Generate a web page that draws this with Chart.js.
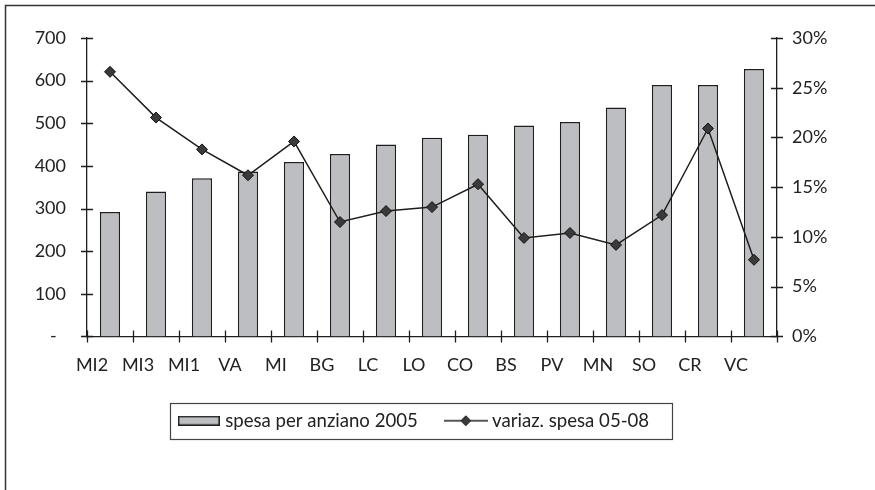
<!DOCTYPE html>
<html>
<head>
<meta charset="utf-8">
<script src="https://cdn.jsdelivr.net/npm/chart.js@4"></script>
<style>
  body { margin: 0; background: #fff; overflow: hidden; }
  #wrap { width: 875px; height: 490px; }
</style>
</head>
<body>
<div id="wrap"><canvas id="myChart" width="875" height="490"></canvas></div>
<script>
// categorie e valori
let categorie = ['MI2', 'MI3', 'MI1', 'VA', 'MI', 'BG', 'LC', 'LO', 'CO', 'BS', 'PV', 'MN', 'SO', 'CR', 'VC'];
let spesa2005 = [292, 340, 371, 387, 409, 428, 450, 466, 473, 495, 503, 537, 590, 590, 627];
let variazSpesa = [26.6, 22.0, 18.8, 16.2, 19.6, 11.5, 12.6, 13.0, 15.3, 9.9, 10.4, 9.2, 12.2, 20.9, 7.7];
let tickSinistra = [0, 100, 200, 300, 400, 500, 600, 700];
let tickDestra = [0, 5, 10, 15, 20, 25, 30];

const grigio = '#bdbec2';
const scuro = '#1e1e1e';

Chart.defaults.font.family = 'Lato';
Chart.defaults.font.size = 18;
Chart.defaults.color = '#222';

// immagini per la legenda
function swatchBarra() {
    let c = document.createElement('canvas');
    c.width = 42; c.height = 10;
    let ctx = c.getContext('2d');
    ctx.fillStyle = grigio;
    ctx.fillRect(0.75, 0.75, 40.5, 8.5);
    ctx.strokeStyle = scuro;
    ctx.lineWidth = 1.5;
    ctx.strokeRect(0.75, 0.75, 40.5, 8.5);
    return c;
}

function swatchLinea() {
    let c = document.createElement('canvas');
    c.width = 44; c.height = 12;
    let ctx = c.getContext('2d');
    ctx.strokeStyle = scuro;
    ctx.lineWidth = 1.5;
    ctx.beginPath();
    ctx.moveTo(0, 6); ctx.lineTo(44, 6);
    ctx.stroke();
    ctx.fillStyle = '#3a3a3a';
    ctx.beginPath();
    ctx.moveTo(22 - 5, 6); ctx.lineTo(22, 1); ctx.lineTo(22 + 5, 6); ctx.lineTo(22, 11);
    ctx.closePath();
    ctx.fill();
    ctx.lineWidth = 1;
    ctx.stroke();
    return c;
}
const immaginiLegenda = [swatchBarra(), swatchLinea()];

// tacche che attraversano gli assi, cornice e bordo della legenda
const extraPlugin = {
    id: 'extra',
    afterDraw(chart) {
        const ctx = chart.ctx;
        const x = chart.scales.x, y = chart.scales.y, y1 = chart.scales.y1;
        ctx.save();
        ctx.strokeStyle = scuro;
        ctx.lineWidth = 1.3;
        ctx.beginPath();
        for (let i = 0; i <= categorie.length; i++) {
            let px = Math.round(x.getPixelForValue(i - 0.5)) + 0.5;
            ctx.moveTo(px, x.top - 6);
            ctx.lineTo(px, x.top + 6);
        }
        y.ticks.forEach(t => {
            let py = Math.round(y.getPixelForValue(t.value)) + 0.5;
            ctx.moveTo(y.right - 6, py);
            ctx.lineTo(y.right + 6, py);
        });
        y1.ticks.forEach(t => {
            let py = Math.round(y1.getPixelForValue(t.value)) + 0.5;
            ctx.moveTo(y1.left - 6, py);
            ctx.lineTo(y1.left + 6, py);
        });
        ctx.stroke();

        // cornice esterna (solo sopra e a sinistra)
        ctx.strokeStyle = '#333';
        ctx.lineWidth = 1.5;
        ctx.beginPath();
        ctx.moveTo(5.5, chart.height);
        ctx.lineTo(5.5, 5.5);
        ctx.lineTo(chart.width, 5.5);
        ctx.stroke();

        // bordo legenda
        let hb = chart.legend.legendHitBoxes;
        if (hb && hb.length) {
            let last = hb[hb.length - 1];
            let l = hb[0].left - 12;
            let r = last.left + last.width + 23;
            let t = hb[0].top - 8;
            let b = hb[0].top + hb[0].height + 9;
            ctx.lineWidth = 1.2;
            ctx.strokeStyle = '#444';
            ctx.strokeRect(Math.round(l) + 0.5, Math.round(t) + 0.5, Math.round(r - l), Math.round(b - t));
        }
        ctx.restore();
    }
};

let data = {
    labels: categorie,
    datasets: [
        {
            type: 'bar',
            label: 'spesa per anziano 2005',
            data: spesa2005,
            backgroundColor: grigio,
            borderColor: scuro,
            borderWidth: 1.5,
            barPercentage: 0.44,
            categoryPercentage: 1,
            yAxisID: 'y',
            order: 2
        },
        {
            type: 'line',
            label: 'variaz. spesa 05-08',
            data: variazSpesa,
            borderColor: scuro,
            borderWidth: 1.5,
            tension: 0,
            pointStyle: 'rectRot',
            pointRadius: 5.5,
            pointBackgroundColor: '#3a3a3a',
            pointBorderColor: '#111',
            pointBorderWidth: 1,
            yAxisID: 'y1',
            order: 1
        }
    ]
};

let config = {
    type: 'bar',
    data: data,
    options: {
        responsive: false,
        animation: false,
        layout: { padding: { left: 0, right: 44, top: 38, bottom: 50 } },
        plugins: {
            tooltip: { enabled: false },
            legend: {
                position: 'bottom',
                labels: {
                    usePointStyle: true,
                    pointStyleWidth: 34,
                    padding: 31,
                    color: '#222',
                    font: { size: 18.6 },
                    sort: (a, b) => a.datasetIndex - b.datasetIndex,
                    generateLabels(chart) {
                        let items = Chart.defaults.plugins.legend.labels.generateLabels(chart);
                        items.forEach(it => { it.pointStyle = immaginiLegenda[it.datasetIndex]; });
                        return items;
                    }
                }
            }
        },
        scales: {
            x: {
                type: 'category',
                offset: true,
                grid: { display: false, drawTicks: false },
                border: { display: true, color: scuro, width: 1.3 },
                ticks: { padding: 18, labelOffset: -18, maxRotation: 0, autoSkip: false },
                afterFit(s) { s.height = 44; s.paddingLeft = 0; s.paddingRight = 0; }
            },
            y: {
                position: 'left',
                min: 0,
                max: 700,
                grid: { display: false, drawTicks: false },
                border: { display: true, color: scuro, width: 1.3 },
                afterBuildTicks(s) { s.ticks = tickSinistra.map(v => ({ value: v })); },
                ticks: {
                    padding: 21,
                    callback: v => v === 0 ? '-  ' : String(v)
                },
                afterFit(s) { s.width = 87; s.paddingTop = 0; s.paddingBottom = 0; }
            },
            y1: {
                position: 'right',
                min: 0,
                max: 30,
                grid: { display: false, drawTicks: false },
                border: { display: true, color: scuro, width: 1.3 },
                afterBuildTicks(s) { s.ticks = tickDestra.map(v => ({ value: v })); },
                ticks: {
                    padding: 15,
                    callback: v => v + '%'
                },
                afterFit(s) { s.width = 875 - 44 - 777; s.paddingTop = 0; s.paddingBottom = 0; }
            }
        }
    },
    plugins: [extraPlugin]
};

let myChart = new Chart(document.getElementById('myChart'), config);
</script>
</body>
</html>
